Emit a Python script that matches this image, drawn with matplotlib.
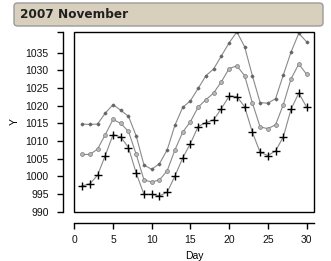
import matplotlib
matplotlib.use("Agg")
import matplotlib.pyplot as plt
from matplotlib.patches import FancyBboxPatch, Rectangle

days = list(range(1, 31))
top = [1014.8, 1014.7, 1014.8, 1017.9, 1020.3, 1018.7, 1017.0, 1011.4, 1003.2, 1002.0,
       1003.6, 1007.5, 1014.5, 1019.5, 1021.4, 1024.9, 1028.5, 1030.4, 1034.1, 1037.8,
       1040.9, 1036.7, 1028.5, 1020.9, 1020.7, 1022.0, 1028.7, 1035.2, 1040.5, 1038.1]
mid = [1006.2, 1006.2, 1007.7, 1011.8, 1016.1, 1015.0, 1012.7, 1006.2, 999.0, 998.4,
       999.0, 1001.6, 1007.5, 1012.5, 1015.5, 1019.6, 1021.7, 1023.6, 1026.8, 1030.5,
       1031.3, 1028.5, 1020.8, 1014.0, 1013.5, 1014.6, 1020.3, 1027.6, 1031.8, 1028.9]
low = [997.3, 997.9, 1000.3, 1005.9, 1011.8, 1011.2, 1008.1, 1000.9, 994.9, 994.9,
       994.5, 995.5, 1000.1, 1005.2, 1009.3, 1014.1, 1015.2, 1016.0, 1019.2, 1022.7,
       1022.6, 1019.7, 1012.5, 1006.8, 1005.9, 1007.2, 1011.2, 1019.0, 1023.6, 1019.6]
x_ticks = [0, 5, 10, 15, 20, 25, 30]
y_ticks = list(range(990, 1036, 5))

plt.rcParams["font.family"] = ["Liberation Sans", "DejaVu Sans"]

fig = plt.figure(figsize=(3.31, 2.61), dpi=100)
ax = fig.add_axes([0.2245, 0.1866, 0.725, 0.6927])

line_col = "#8a8a8a"
ax.plot(days, top, color=line_col, lw=0.8, marker="D", ms=1.4,
        mfc="#666666", mec="#666666")
ax.plot(days, mid, color=line_col, lw=0.8, marker="o", ms=2.8,
        mfc="#b8b8b8", mec="#7a7a7a", mew=0.5)
ax.plot(days, low, color=line_col, lw=0.8, marker="+", ms=6,
        mec="black", mew=1.0)

ax.set_xlim(0, 31)
ax.set_ylim(989.83, 1041.0)
ax.set_xticks(x_ticks)
ax.set_yticks(y_ticks)
ax.set_yticks([1041.0], minor=True)

for s in ["top", "right"]:
    ax.spines[s].set_visible(False)
ax.spines["left"].set_position(("outward", 8))
ax.spines["bottom"].set_position(("outward", 8))
ax.spines["left"].set_linewidth(1.0)
ax.spines["bottom"].set_linewidth(1.0)
ax.add_patch(Rectangle((0, 0), 1, 1, transform=ax.transAxes, fill=False,
                       lw=1.0, ec="black", clip_on=False, zorder=5))

ax.tick_params(axis="both", which="both", direction="out", length=4.5, width=1.0,
               labelsize=7.5, color="black", labelcolor="#111111")
ax.tick_params(axis="y", which="minor", labelleft=False)
ax.tick_params(axis="y", pad=6)
ax.tick_params(axis="x", pad=4)

ax.set_xlabel("Day", fontsize=7.5, labelpad=4)
ax.set_ylabel("Y", fontsize=7.5, labelpad=4)

# title banner
banner = FancyBboxPatch((14 / 331, 1 - 26 / 261), 309 / 331, 23 / 261,
                        boxstyle="round,pad=0,rounding_size=0.012",
                        transform=fig.transFigure, fc="#d8d0bc", ec="#9a9a9a",
                        lw=1.0)
fig.patches.append(banner)
fig.text(20 / 331, 1 - 14.5 / 261, "2007 November", fontsize=8.7, fontweight="bold",
         family=["DejaVu Sans"], va="center", ha="left", color="#202020")

fig.savefig("out.png", dpi=100)
